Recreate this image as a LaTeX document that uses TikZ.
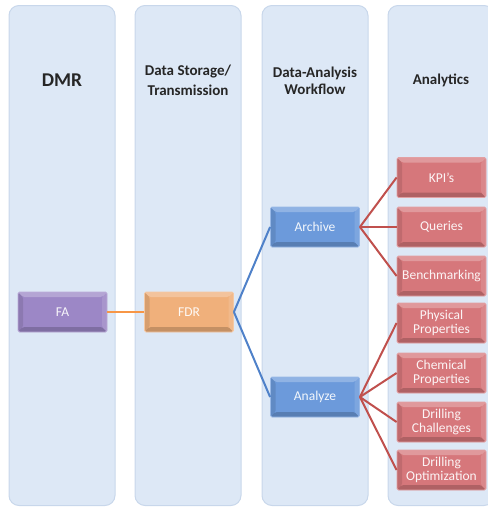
\documentclass[tikz,border=0pt]{standalone}
\usepackage{fontspec}
\setmainfont{Carlito}
\begin{document}
\begin{tikzpicture}[x=1pt,y=-1pt,
  colbox/.style={draw=coledge,fill=colfill,line width=1pt,rounded corners=10pt,minimum width=106pt,minimum height=500pt,inner sep=0pt},
  head/.style={font=\bfseries\fontsize{15}{20.5}\selectfont,align=center,text=black!85},
  bevelbox/.style={draw=#1!70!white,line width=0.8pt,fill=#1,rounded corners=1.5pt,minimum width=89pt,minimum height=40pt,inner sep=0pt,align=center,
    text=white!92!#1,font=\fontsize{13.5}{14.5}\selectfont,
    path picture={
      \fill[white,opacity=0.25] (path picture bounding box.north west) -- (path picture bounding box.north east) -- ([xshift=-5pt,yshift=-5pt]path picture bounding box.north east) -- ([xshift=5pt,yshift=-5pt]path picture bounding box.north west) -- cycle;
      \fill[white,opacity=0.12] (path picture bounding box.north east) -- (path picture bounding box.south east) -- ([xshift=-5pt,yshift=5pt]path picture bounding box.south east) -- ([xshift=-5pt,yshift=-5pt]path picture bounding box.north east) -- cycle;
      \fill[black,opacity=0.10] (path picture bounding box.north west) -- (path picture bounding box.south west) -- ([xshift=5pt,yshift=5pt]path picture bounding box.south west) -- ([xshift=5pt,yshift=-5pt]path picture bounding box.north west) -- cycle;
      \fill[black,opacity=0.18] (path picture bounding box.south west) -- (path picture bounding box.south east) -- ([xshift=-5pt,yshift=5pt]path picture bounding box.south east) -- ([xshift=5pt,yshift=5pt]path picture bounding box.south west) -- cycle;
    }},
  link/.style={line width=2pt,draw=#1}
]
\definecolor{colfill}{HTML}{DDE8F6}
\definecolor{coledge}{HTML}{C8D7EB}
\definecolor{purplebox}{HTML}{9C87C6}
\definecolor{orangebox}{HTML}{F0B07B}
\definecolor{bluebox}{HTML}{6C9ADB}
\definecolor{redbox}{HTML}{D6777B}
\definecolor{orangeline}{HTML}{F79646}
\definecolor{blueline}{HTML}{4F81C9}
\definecolor{redline}{HTML}{C0504D}
\useasboundingbox (0,0) rectangle (488,507);

\node[colbox] (c1) at (62,255.5) {};
\node[colbox] (c2) at (188,255.5) {};
\node[colbox] (c3) at (315,255.5) {};
\node[colbox] (c4) at (441,255.5) {};

\node[head,font=\bfseries\fontsize{19.5}{22}\selectfont] (h1) at (62,80) {DMR};
\node[head] (h2) at (188,80.5) {Data Storage/\\Transmission};
\node[head,font=\bfseries\fontsize{15}{16.5}\selectfont] (h3) at (315,81) {Data-Analysis\\Workflow};
\node[head] (h4) at (441,80) {Analytics};

\node[bevelbox=purplebox] (fa) at (62.5,312) {FA};
\node[bevelbox=orangebox] (fdr) at (189,312) {FDR};
\node[bevelbox=bluebox] (archive) at (315,227) {Archive};
\node[bevelbox=bluebox] (analyze) at (315,397) {Analyze};

\node[bevelbox=redbox] (kpi) at (441.5,177.5) {KPI’s};
\node[bevelbox=redbox] (queries) at (441.5,227) {Queries};
\node[bevelbox=redbox] (bench) at (441.5,276) {Benchmarking};
\node[bevelbox=redbox] (phys) at (441.5,323) {Physical\\Properties};
\node[bevelbox=redbox] (chem) at (441.5,373) {Chemical\\Properties};
\node[bevelbox=redbox] (chall) at (441.5,422) {Drilling\\Challenges};
\node[bevelbox=redbox] (optim) at (441.5,470) {Drilling\\Optimization};

\draw[link=orangeline] (fa.east) -- (fdr.west);
\draw[link=blueline] (fdr.east) -- (archive.west);
\draw[link=blueline] (fdr.east) -- (analyze.west);
\foreach \t in {kpi,queries,bench}
  \draw[link=redline] (archive.east) -- (\t.west);
\foreach \t in {phys,chem,chall,optim}
  \draw[link=redline] (analyze.east) -- (\t.west);
\end{tikzpicture}
\end{document}
